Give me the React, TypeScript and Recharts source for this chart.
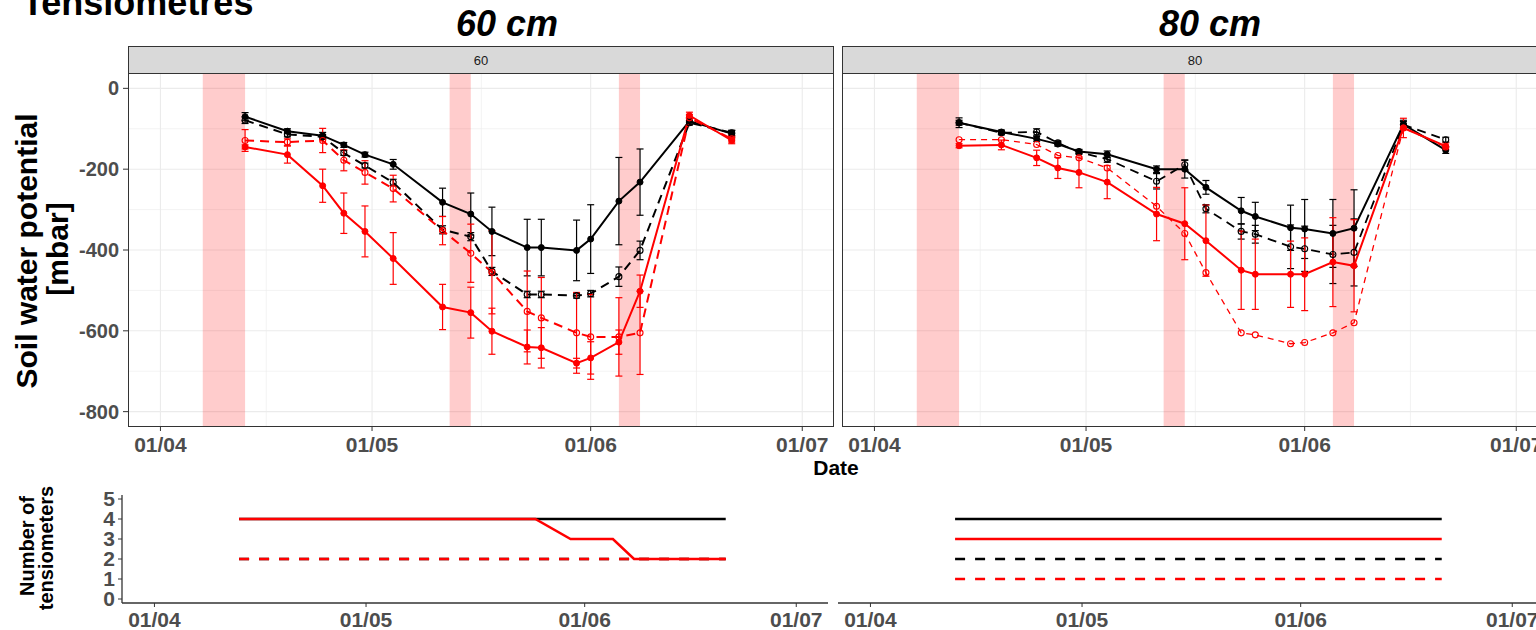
import React from "react";
import {
  ComposedChart,
  Line,
  XAxis,
  YAxis,
  CartesianGrid,
  ReferenceArea,
  ErrorBar,
} from "recharts";

// sampling dates (dd/mm)
const dates = [
  "13/04", "19/04", "24/04", "27/04", "30/04", "04/05", "11/05", "15/05", "18/05",
  "23/05", "25/05", "30/05", "01/06", "05/06", "08/06", "15/06", "21/06",
];
const monthTicks = ["01/04", "01/05", "01/06", "01/07"];
const rainStart = ["07/04", "12/05", "05/06"];
const rainEnd = ["13/04", "15/05", "08/06"];

// 60 cm - soil water potential (mbar) and error
const black60 = [-70, -106, -117, -140, -164, -188, -282, -311, -354, -394, -394, -401, -373, -279, -232, -81, -112];
const black60Err = [10, 6, 8, 6, 6, 12, 35, 52, 60, 70, 70, 75, 85, 108, 82, 8, 8];
const blackDash60 = [-79, -114, -120, -160, -191, -233, -350, -367, -453, -510, -510, -513, -508, -466, -401, -85, -110];
const blackDash60Err = [8, 6, 6, 6, 6, 8, 10, 10, 10, 8, 8, 6, 8, 24, 23, 6, 6];
const red60 = [-145, -164, -241, -309, -354, -421, -541, -555, -601, -640, -642, -680, -667, -628, -502, -67, -129];
const red60Err = [5, 21, 41, 50, 63, 64, 56, 63, 57, 42, 50, 12, 40, 30, 40, 8, 8];
const redDash60 = [-129, -133, -129, -178, -208, -248, -352, -408, -455, -552, -568, -605, -615, -615, -605, -73, -125];
const redDash60Err = [27, 8, 30, 26, 29, 33, 35, 72, 103, 100, 100, 100, 105, 97, 103, 8, 8];

// 80 cm
const black80 = [-85, -108, -125, -138, -156, -163, -200, -200, -245, -303, -317, -345, -348, -359, -346, -89, -153];
const black80Err = [12, 5, 6, 5, 5, 8, 8, 22, 17, 33, 35, 56, 73, 84, 95, 10, 8];
const blackDash80 = [-85, -110, -108, -135, -158, -175, -230, -189, -298, -354, -361, -392, -397, -411, -406, -90, -127];
const blackDash80Err = [6, 5, 8, 5, 5, 8, 19, 12, 10, 19, 22, 54, 56, 72, 83, 8, 6];
const red80 = [-142, -140, -172, -197, -208, -232, -311, -335, -377, -450, -460, -460, -460, -430, -439, -98, -143];
const red80Err = [5, 12, 19, 26, 38, 41, 66, 89, 88, 97, 87, 82, 90, 110, 114, 24, 8];
const redDash80 = [-127, -127, -139, -166, -172, -197, -292, -359, -456, -605, -610, -632, -629, -605, -580, -98, -145];

// number of tensiometers
const nBlack60 = [4, 4, 4, 4, 4, 4, 4, 4, 4, 4, 4, 4, 4, 4, 4, 4, 4];
const nBlackDash60 = [2, 2, 2, 2, 2, 2, 2, 2, 2, 2, 2, 2, 2, 2, 2, 2, 2];
const nRed60 = [4, 4, 4, 4, 4, 4, 4, 4, 4, 4, 4, 3, 3, 3, 2, 2, 2];
const nRedDash60 = [2, 2, 2, 2, 2, 2, 2, 2, 2, 2, 2, 2, 2, 2, 2, 2, 2];
const nBlack80 = [4, 4, 4, 4, 4, 4, 4, 4, 4, 4, 4, 4, 4, 4, 4, 4, 4];
const nBlackDash80 = [2, 2, 2, 2, 2, 2, 2, 2, 2, 2, 2, 2, 2, 2, 2, 2, 2];
const nRed80 = [3, 3, 3, 3, 3, 3, 3, 3, 3, 3, 3, 3, 3, 3, 3, 3, 3];
const nRedDash80 = [1, 1, 1, 1, 1, 1, 1, 1, 1, 1, 1, 1, 1, 1, 1, 1, 1];

const yTicks = [-800, -600, -400, -200, 0];
const countTicks = [0, 1, 2, 3, 4, 5];

const FONT = '"Liberation Sans", Arial, sans-serif';
const RED = "#ff0000";
const BLACK = "#000000";
const X_DOMAIN: [number, number] = [-4.6, 95.5];
const PLOT_W = 706;

const monthStart: Record<number, number> = { 4: 0, 5: 30, 6: 61, 7: 91 };
function dayOf(s: string) {
  const [d, m] = s.split("/").map(Number);
  return monthStart[m] + d - 1;
}
const tickDays = monthTicks.map(dayOf);
const minorDays = tickDays.slice(1).map((d, i) => (d + tickDays[i]) / 2);
const fmtDay = (v: number) => monthTicks[tickDays.indexOf(v)] ?? "";

type S = { v: number[]; e?: number[]; color: string; dashed: boolean; width: number };

function rows(v: number[], e?: number[]) {
  return dates.map((d, i) => ({ day: dayOf(d), v: v[i], e: e ? e[i] : 0 }));
}

const series60: S[] = [
  { v: blackDash60, e: blackDash60Err, color: BLACK, dashed: true, width: 2 },
  { v: black60, e: black60Err, color: BLACK, dashed: false, width: 2 },
  { v: redDash60, e: redDash60Err, color: RED, dashed: true, width: 2 },
  { v: red60, e: red60Err, color: RED, dashed: false, width: 2 },
];
const series80: S[] = [
  { v: blackDash80, e: blackDash80Err, color: BLACK, dashed: true, width: 1.8 },
  { v: black80, e: black80Err, color: BLACK, dashed: false, width: 2 },
  { v: redDash80, color: RED, dashed: true, width: 1.3 },
  { v: red80, e: red80Err, color: RED, dashed: false, width: 2 },
];
const count60: S[] = [
  { v: nBlackDash60, color: BLACK, dashed: true, width: 2.5 },
  { v: nBlack60, color: BLACK, dashed: false, width: 2.5 },
  { v: nRedDash60, color: RED, dashed: true, width: 2.5 },
  { v: nRed60, color: RED, dashed: false, width: 2.5 },
];
const count80: S[] = [
  { v: nBlackDash80, color: BLACK, dashed: true, width: 2.5 },
  { v: nBlack80, color: BLACK, dashed: false, width: 2.5 },
  { v: nRedDash80, color: RED, dashed: true, width: 2.5 },
  { v: nRed80, color: RED, dashed: false, width: 2.5 },
];

const tickStyle = { fill: "#4d4d4d", fontSize: 21, fontWeight: "bold", fontFamily: FONT };

function PotentialPanel({ left, plotLeft, label, series }: { left: number; plotLeft: number; label: string; series: S[] }) {
  const yW = plotLeft - left;
  return (
    <>
      <div
        style={{
          position: "absolute", left: plotLeft, top: 46, width: PLOT_W, height: 28, boxSizing: "border-box",
          background: "#d9d9d9", border: "1px solid #333", fontFamily: FONT, fontSize: 13, color: "#1a1a1a",
          display: "flex", alignItems: "center", justifyContent: "center",
        }}
      >
        {label}
      </div>
      <div style={{ position: "absolute", left, top: 73 }}>
        <ComposedChart width={yW + PLOT_W} height={394} margin={{ top: 0, right: 0, bottom: 0, left: 0 }}>
          <CartesianGrid stroke="#ebebeb" strokeWidth={0.6} horizontalValues={[-700, -500, -300, -100]} verticalValues={minorDays} />
          <CartesianGrid stroke="#ebebeb" strokeWidth={1.1} horizontalValues={yTicks} verticalValues={tickDays} />
          <XAxis
            type="number" dataKey="day" domain={X_DOMAIN} allowDataOverflow ticks={tickDays} interval={0}
            tickFormatter={fmtDay} height={40} axisLine={false} tickSize={4} tickMargin={6}
            tickLine={{ stroke: "#333" }} tick={tickStyle}
          />
          <YAxis
            type="number" domain={[-838, 38]} allowDataOverflow ticks={yTicks} interval={0} width={yW || 60}
            hide={yW === 0} axisLine={false} tickSize={5} tickMargin={4} tickLine={{ stroke: "#333" }}
            tick={{ ...tickStyle, fontSize: 20 }}
          />
          {rainStart.map((s, i) => (
            <ReferenceArea key={s} x1={dayOf(s)} x2={dayOf(rainEnd[i])} fill={RED} fillOpacity={0.2} stroke="none" ifOverflow="visible" />
          ))}
          {series.map((s, i) => (
            <Line
              key={i}
              data={rows(s.v, s.e)}
              dataKey="v"
              type="linear"
              stroke={s.color}
              strokeWidth={s.width}
              strokeDasharray={s.dashed ? (s.width < 1.5 ? "6 5" : "9 6") : undefined}
              dot={
                s.dashed
                  ? { r: 3, fill: "none", stroke: s.color, strokeWidth: 1.1, strokeDasharray: "none" }
                  : { r: 3, fill: s.color, stroke: s.color, strokeWidth: 1, strokeDasharray: "none" }
              }
              activeDot={false}
              isAnimationActive={false}
            >
              {s.e && <ErrorBar dataKey="e" direction="y" width={3.5} stroke={s.color} strokeWidth={1.2} />}
            </Line>
          ))}
        </ComposedChart>
      </div>
      <div
        style={{
          position: "absolute", left: plotLeft, top: 73, width: PLOT_W, height: 354, boxSizing: "border-box",
          border: "1px solid #333", pointerEvents: "none",
        }}
      />
    </>
  );
}

function CountPanel({ left, plotLeft, series }: { left: number; plotLeft: number; series: S[] }) {
  const yW = plotLeft - left;
  return (
    <div style={{ position: "absolute", left, top: 485 }}>
      <ComposedChart width={yW + PLOT_W} height={153} margin={{ top: 10, right: 0, bottom: 0, left: 0 }}>
        <XAxis
          type="number" dataKey="day" domain={X_DOMAIN} allowDataOverflow ticks={tickDays} interval={0}
          tickFormatter={fmtDay} height={35} tickSize={4} tickMargin={5}
          axisLine={{ stroke: "#333", strokeWidth: 1.3 }} tickLine={{ stroke: "#333" }} tick={tickStyle}
        />
        <YAxis
          type="number" domain={[-0.2, 5.2]} ticks={countTicks} interval={0} width={yW || 60} hide={yW === 0}
          axisLine={{ stroke: "#333", strokeWidth: 1.3 }} tickSize={4} tickMargin={3} tickLine={{ stroke: "#333" }}
          tick={{ ...tickStyle, fontSize: 21 }}
        />
        {series.map((s, i) => (
          <Line
            key={i}
            data={rows(s.v)}
            dataKey="v"
            type="linear"
            stroke={s.color}
            strokeWidth={s.width}
            strokeDasharray={s.dashed ? "10 10" : undefined}
            dot={false}
            activeDot={false}
            isAnimationActive={false}
          />
        ))}
      </ComposedChart>
    </div>
  );
}

export default function App() {
  return (
    <div
      style={{
        position: "absolute", left: 0, top: 0, width: 1536, height: 630, overflow: "hidden",
        background: "#fff", fontFamily: FONT,
      }}
    >
      <PotentialPanel left={0} plotLeft={128} label="60" series={series60} />
      <PotentialPanel left={842} plotLeft={842} label="80" series={series80} />
      <CountPanel left={0} plotLeft={122} series={count60} />
      <CountPanel left={838} plotLeft={838} series={count80} />
      <svg width={1536} height={630} style={{ position: "absolute", left: 0, top: 0, pointerEvents: "none" }} fontFamily={FONT} fontWeight="bold">
        <text x={22} y={15} fontSize={36}>Tensiomètres</text>
        <text x={507} y={36} fontSize={36} fontStyle="italic" textAnchor="middle">60 cm</text>
        <text x={1210} y={36} fontSize={36} fontStyle="italic" textAnchor="middle">80 cm</text>
        <text x={836} y={475} fontSize={21} textAnchor="middle">Date</text>
        <text transform="translate(37,251) rotate(-90)" fontSize={30} textAnchor="middle">Soil water potential</text>
        <text transform="translate(68,249) rotate(-90)" fontSize={30} textAnchor="middle">[mbar]</text>
        <text transform="translate(34,546) rotate(-90)" fontSize={20} textAnchor="middle">Number of</text>
        <text transform="translate(53,548) rotate(-90)" fontSize={20} textAnchor="middle">tensiometers</text>
      </svg>
    </div>
  );
}
